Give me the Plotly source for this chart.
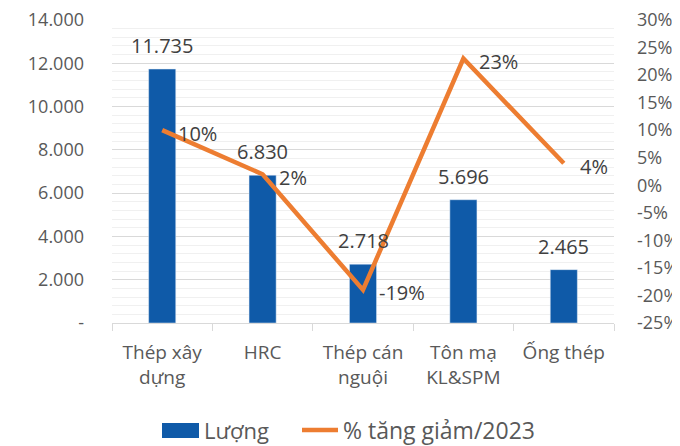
import plotly.graph_objects as go

categories = ["Thép xây<br>dựng", "HRC", "Thép cán<br>nguội", "Tôn mạ<br>KL&SPM", "Ống thép"]
volume = [11735, 6830, 2718, 5696, 2465]
volume_labels = ["11.735", "6.830", "2.718", "5.696", "2.465"]
pct_change = [10, 2, -19, 23, 4]
pct_labels = ["10%", "2%", "-19%", "23%", "4%"]
series_names = ["Lượng", "% tăng giảm/2023"]

left_tickvals = [0, 2000, 4000, 6000, 8000, 10000, 12000, 14000]
left_ticktext = ["-", "2.000", "4.000", "6.000", "8.000", "10.000", "12.000", "14.000"]
right_tickvals = [-25, -20, -15, -10, -5, 0, 5, 10, 15, 20, 25, 30]
right_ticktext = [f"{v}%" for v in right_tickvals]

FONT = "Open Sans, Lato, sans-serif"
BLUE = "#0F5AA8"
ORANGE = "#ED7D31"
AXIS_TXT = "#595959"
DATA_TXT = "#404040"

# figure geometry (page body has an 8px margin)
W, H = 672, 438
ML, MR, MT, MB = 104, 66, 12, 123
PW = W - ML - MR
PH = H - MT - MB


def px(xp):
    return (xp - 8 - ML) / PW


def py(yp):
    return (H - MB - (yp - 8)) / PH


fig = go.Figure()
fig.add_trace(go.Bar(
    x=categories, y=volume, name=series_names[0], marker_color=BLUE,
    width=0.27, yaxis="y", showlegend=False,
))
fig.add_trace(go.Scatter(
    x=categories, y=pct_change, name=series_names[1], mode="lines",
    line=dict(color=ORANGE, width=4.5), yaxis="y2", showlegend=False,
))

annotations = []
for c, v, t in zip(categories, volume, volume_labels):
    annotations.append(dict(x=c, y=v, xref="x", yref="y", text=t, showarrow=False,
                            yanchor="bottom", yshift=8,
                            font=dict(size=20, color=DATA_TXT, family=FONT)))
for c, v, t in zip(categories, pct_change, pct_labels):
    annotations.append(dict(x=c, y=v, xref="x", yref="y2", text=t, showarrow=False,
                            xanchor="left", xshift=14, yshift=-3,
                            font=dict(size=20, color=DATA_TXT, family=FONT)))

# custom legend
shapes = [
    dict(type="rect", xref="paper", yref="paper", x0=px(162), x1=px(199),
         y0=py(438), y1=py(423), fillcolor=BLUE, line=dict(width=0)),
    dict(type="line", xref="paper", yref="paper", x0=px(302), x1=px(338),
         y0=py(430), y1=py(430), line=dict(color=ORANGE, width=4.5)),
]
annotations.append(dict(xref="paper", yref="paper", x=px(202), y=py(430), text=series_names[0],
                        showarrow=False, xanchor="left", yanchor="middle",
                        font=dict(size=22, color=AXIS_TXT, family=FONT)))
annotations.append(dict(xref="paper", yref="paper", x=px(341), y=py(430), text=series_names[1],
                        showarrow=False, xanchor="left", yanchor="middle",
                        font=dict(size=23, color=AXIS_TXT, family=FONT)))

fig.update_layout(
    width=W, height=H,
    margin=dict(l=ML, r=MR, t=MT, b=MB, autoexpand=False),
    paper_bgcolor="white", plot_bgcolor="white",
    font=dict(family=FONT, color=AXIS_TXT, size=15),
    showlegend=False,
    bargap=0.73,
    xaxis=dict(type="category", showline=True, linecolor="#d9d9d9", linewidth=1,
               ticks="outside", tickson="boundaries", ticklen=7, tickcolor="#d9d9d9",
               ticklabelstandoff=12,
               tickfont=dict(size=19, color=AXIS_TXT), showgrid=False, automargin=False),
    yaxis=dict(range=[0, 14000], tickvals=left_tickvals, ticktext=left_ticktext,
               showgrid=True, gridcolor="#d9d9d9", gridwidth=1,
               minor=dict(dtick=400, showgrid=True, gridcolor="#f0f0f0", gridwidth=1),
               zeroline=False, showline=False, ticks="", automargin=False,
               ticklabeloverflow="allow",
               tickfont=dict(size=18, color=AXIS_TXT), ticklabelstandoff=27),
    yaxis2=dict(range=[-25, 30], overlaying="y", side="right",
                tickvals=right_tickvals, ticktext=right_ticktext,
                showgrid=False, zeroline=False, showline=False, ticks="", automargin=False,
                ticklabeloverflow="allow",
                tickfont=dict(size=18, color=AXIS_TXT), ticklabelstandoff=22),
    annotations=annotations,
    shapes=shapes,
)

fig.write_html("out.html")
